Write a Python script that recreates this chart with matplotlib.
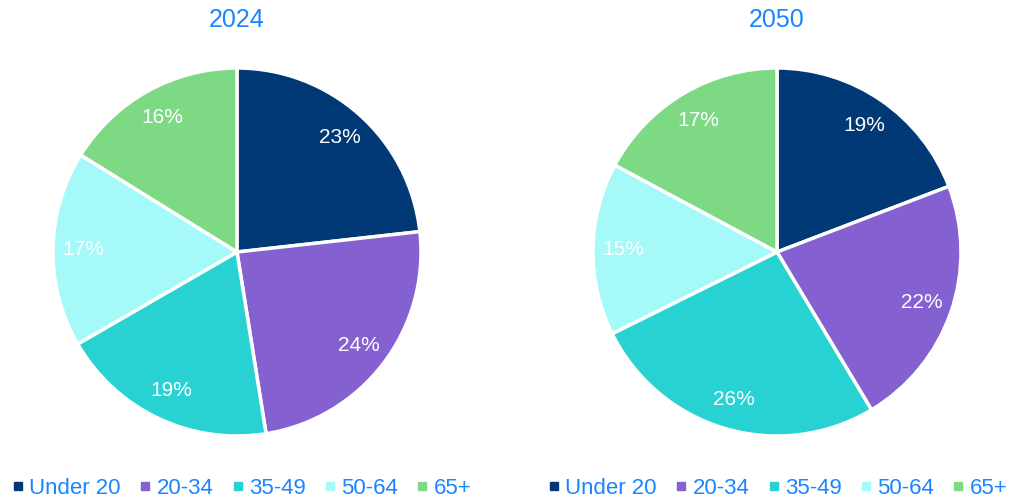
import matplotlib.pyplot as plt
from matplotlib.lines import Line2D

plt.rcParams['font.family'] = ['Liberation Sans', 'DejaVu Sans']

groups = ["Under 20", "20-34", "35-49", "50-64", "65+"]
shares_2024 = [23, 24, 19, 17, 16]
shares_2050 = [19, 22, 26, 15, 17]
years = ["2024", "2050"]

colors = ["#003976", "#8560D0", "#29D2D2", "#A5F9F9", "#7ED985"]
blue = "#1A85FF"

fig = plt.figure(figsize=(10.13, 4.99), dpi=100)
W, H = 1013, 499
r = 184
centers = [(237, 252), (777, 252)]
legend_x = [242, 778]

for (cx, cy), lx, year, shares in zip(centers, legend_x, years, [shares_2024, shares_2050]):
    ax = fig.add_axes([(cx - r) / W, (H - cy - r) / H, 2 * r / W, 2 * r / H])
    wedges, texts, autotexts = ax.pie(
        shares, colors=colors, startangle=90, counterclock=False,
        autopct=lambda p: f"{p:.0f}%", pctdistance=0.835,
        wedgeprops=dict(edgecolor="white", linewidth=2.5),
        textprops=dict(fontsize=15, color="white"),
    )
    ax.set_xlim(-1, 1)
    ax.set_ylim(-1, 1)
    ax.set_aspect("equal")
    fig.text(cx / W, 1 - 20 / H, year, ha="center", va="center",
             fontsize=18, color=blue)

    handles = [Line2D([], [], marker="s", linestyle="", markersize=6,
                      markerfacecolor=c, markeredgecolor=c) for c in colors]
    fig.legend(handles, groups, loc="center", bbox_to_anchor=(lx / W, 1 - 488 / H),
               ncol=5, frameon=False, fontsize=16, labelcolor=blue,
               handlelength=0.5, handletextpad=0.25, columnspacing=0.85,
               borderpad=0, borderaxespad=0)

fig.savefig("out.png", dpi=100)
